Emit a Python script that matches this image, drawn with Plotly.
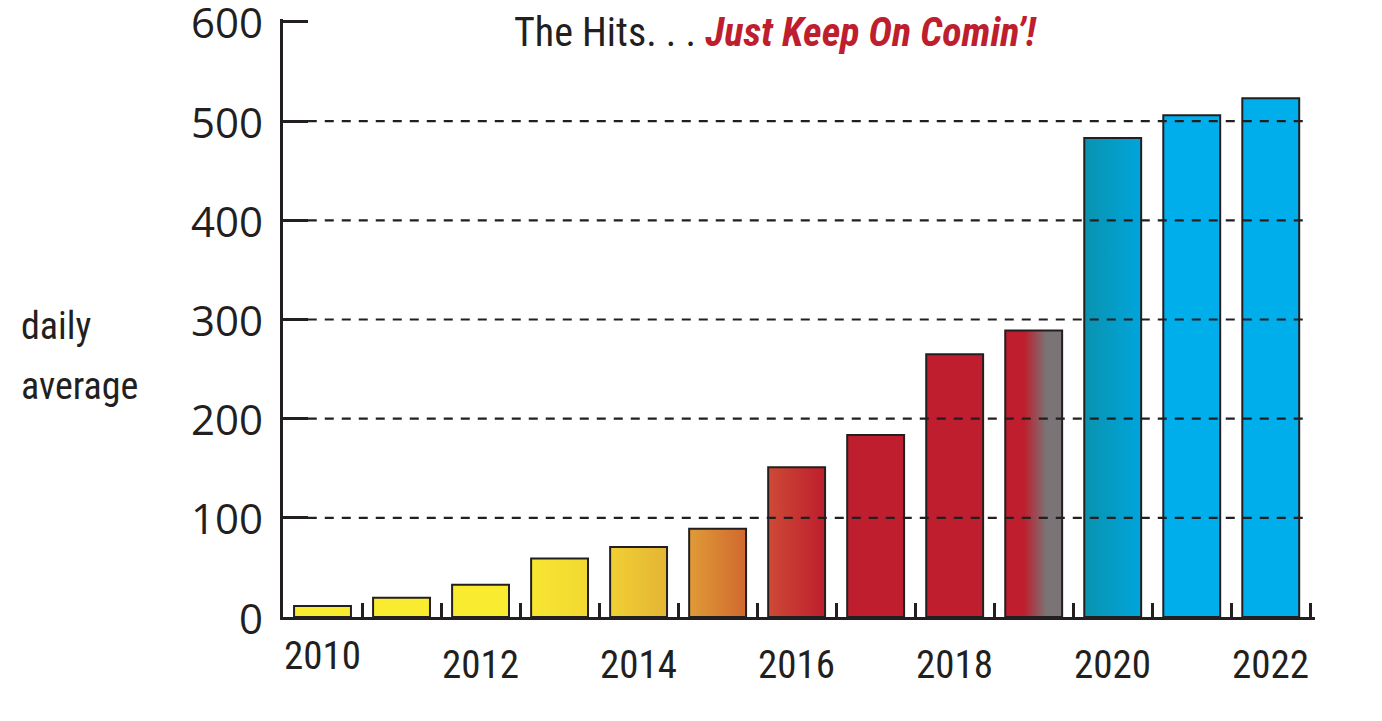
import plotly.graph_objects as go

# ---- data ----
years = [2010, 2011, 2012, 2013, 2014, 2015, 2016, 2017, 2018, 2019, 2020, 2021, 2022]
daily_average = [11, 19.5, 32.5, 59, 70.5, 89, 151, 183.5, 265, 289, 483, 506, 523]
x_tick_labels = ["2010", "2012", "2014", "2016", "2018", "2020", "2022"]
x_label_years = [2010, 2012, 2014, 2016, 2018, 2020, 2022]
y_ticks = [0, 100, 200, 300, 400, 500, 600]
y_tick_labels = ["0", "100", "200", "300", "400", "500", "600"]

# ---- styles ----
RED = "#be1e2d"
GRAY = "#7b7476"
INK = "#231f20"
fill_stops = [
    [[0, "#f8eb30"], [1, "#f8eb30"]],
    [[0, "#f8eb30"], [1, "#f8eb30"]],
    [[0, "#f8eb30"], [1, "#f8eb30"]],
    [[0, "#f7e631"], [1, "#f2d932"]],
    [[0, "#f0cf33"], [1, "#e4b535"]],
    [[0, "#e09b37"], [1, "#d0692f"]],
    [[0, "#cd4a36"], [1, RED]],
    [[0, RED], [1, RED]],
    [[0, RED], [1, RED]],
    [[0, RED], [0.33, RED], [0.72, GRAY], [1, GRAY]],
    [[0, "#0a93b0"], [1, "#00a5db"]],
    [[0, "#00aeeb"], [1, "#00aeeb"]],
    [[0, "#00aeeb"], [1, "#00aeeb"]],
]
x_label_yshift = [-39, -48, -48, -48, -48, -48, -48]
HALF_W = 0.36

COND = "Liberation Sans Narrow, Roboto Condensed, Arial Narrow, Roboto, sans-serif"
NUMFONT = dict(family="Open Sans, Noto Sans, sans-serif", size=42, color=INK)
X_RANGE = [2009.5, 2022.56]

fig = go.Figure()
for yr, v, stops in zip(years, daily_average, fill_stops):
    fig.add_trace(go.Scatter(
        x=[yr - HALF_W, yr + HALF_W, yr + HALF_W, yr - HALF_W, yr - HALF_W],
        y=[0, 0, v, v, 0],
        mode="lines",
        fill="toself",
        fillgradient=dict(type="horizontal", colorscale=stops),
        line=dict(color=INK, width=2),
        hoverinfo="skip",
        showlegend=False,
    ))

# dashed grid lines drawn above bars
for t in y_ticks[1:-1]:
    fig.add_shape(type="line", xref="paper", yref="y", x0=0.024, x1=0.995, y0=t, y1=t,
                  line=dict(color=INK, width=2.2, dash="9px,8px"), layer="above")

# y tick labels
for t, lab in zip(y_ticks, y_tick_labels):
    fig.add_annotation(text=lab, xref="paper", yref="y", x=-0.017, y=t,
                       xanchor="right", yanchor="middle", showarrow=False, font=NUMFONT)

# x tick labels
for yr, lab, dy in zip(x_label_years, x_tick_labels, x_label_yshift):
    fig.add_annotation(text=lab, xref="x", yref="paper", x=yr, y=0, yshift=dy,
                       xanchor="center", yanchor="middle", showarrow=False,
                       font=dict(family=COND, size=39, color=INK))

fig.add_annotation(
    text="The Hits. . . <b><i><span style='color:%s'>Just Keep On Comin’!</span></i></b>" % RED,
    xref="paper", yref="paper", x=0.477, y=0.978, xanchor="center", yanchor="middle",
    showarrow=False, font=dict(family=COND, size=40, color=INK))
fig.add_annotation(text="daily", xref="paper", yref="paper", x=-0.256, y=0.486,
                   xanchor="left", yanchor="middle", showarrow=False,
                   font=dict(family=COND, size=38, color=INK))
fig.add_annotation(text="average", xref="paper", yref="paper", x=-0.256, y=0.386,
                   xanchor="left", yanchor="middle", showarrow=False,
                   font=dict(family=COND, size=38, color=INK))

fig.update_layout(
    width=1366, height=705,
    margin=dict(l=275, r=59, t=11, b=96),
    paper_bgcolor="white", plot_bgcolor="white",
    xaxis=dict(range=X_RANGE, showgrid=False, zeroline=False,
               showline=True, linewidth=3, linecolor=INK,
               tickvals=[y + 0.5 for y in years], ticks="inside", ticklen=14,
               tickwidth=3, tickcolor=INK, showticklabels=False),
    yaxis=dict(range=[0, 603], showgrid=False, zeroline=False,
               showline=True, linewidth=3, linecolor=INK,
               tickvals=y_ticks, ticks="inside", ticklen=25, tickwidth=3,
               tickcolor=INK, showticklabels=False),
)

fig.write_html("out.html")
